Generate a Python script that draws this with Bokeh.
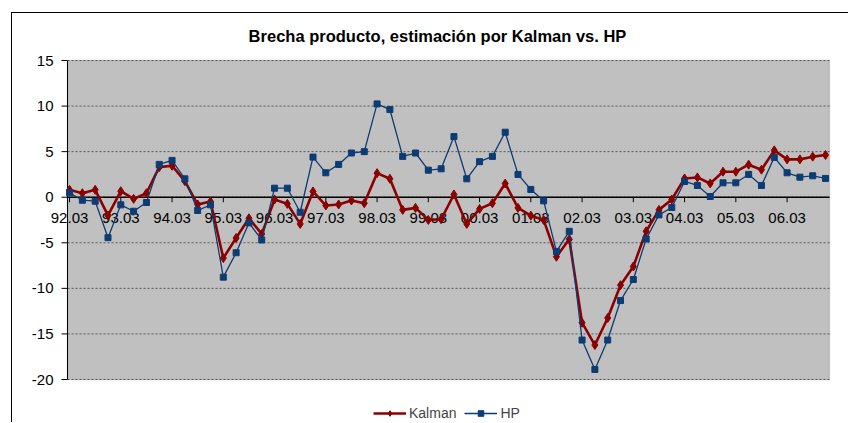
import math
from bokeh.plotting import figure
from bokeh.embed import file_html
from bokeh.resources import INLINE
from bokeh.models import Legend, LegendItem, BoxAnnotation, Label, Range1d
from bokeh.core.properties import value

quarters_idx = list(range(60))
tick_idx = [0, 4, 8, 12, 16, 20, 24, 28, 32, 36, 40, 44, 48, 52, 56]
tick_labels = ["92.03", "93.03", "94.03", "95.03", "96.03", "97.03", "98.03", "99.03",
               "00.03", "01.03", "02.03", "03.03", "04.03", "05.03", "06.03"]
y_ticks = [-20, -15, -10, -5, 0, 5, 10, 15]
y_tick_labels = ["-20", "-15", "-10", "-5", "0", "5", "10", "15"]

kalman = [0.81, 0.44, 0.81, -2.0, 0.66, -0.18, 0.44, 3.3, 3.45, 1.76, -0.8, -0.47,
          -6.68, -4.48, -2.31, -4.03, -0.25, -0.73, -2.93, 0.63, -0.91, -0.8, -0.36, -0.66,
          2.64, 2.02, -1.39, -1.17, -2.49, -2.42, 0.3, -2.93, -1.28, -0.66, 1.5, -1.17,
          -2.02, -2.49, -6.53, -4.62, -13.77, -16.22, -13.25, -9.65, -7.6, -3.74, -1.39, -0.25,
          2.06, 2.17, 1.51, 2.8, 2.8, 3.57, 3.02, 5.14, 4.15, 4.15, 4.45, 4.63]

hp = [0.48, -0.33, -0.44, -4.44, -0.84, -1.54, -0.58, 3.6, 4.04, 2.02, -1.46, -0.84,
      -8.77, -6.09, -2.82, -4.69, 0.99, 0.99, -1.65, 4.4, 2.68, 3.6, 4.85, 5.0,
      10.24, 9.62, 4.48, 4.85, 2.97, 3.12, 6.65, 2.02, 3.9, 4.48, 7.13, 2.5,
      0.85, -0.4, -5.95, -3.74, -15.67, -18.9, -15.67, -11.34, -9.03, -4.58, -1.94, -1.13,
      1.73, 1.29, 0.08, 1.58, 1.58, 2.5, 1.29, 4.37, 2.68, 2.2, 2.35, 2.06]

TITLE = "Brecha producto, estimación por Kalman vs. HP"
FONT = "Liberation Sans"
RED = "#8B0000"
BLUE = "#0D3B73"

# plot-area extent in category units, and the pixel layout of the chart
X0, X1 = -0.16, 59.31
AREA_W, AREA_H = 762, 319
LEFT_PAD, RIGHT_PAD, TOP_PAD, BOTTOM_PAD = 55, 20, 47, 44
sx = AREA_W / (X1 - X0)
sy = AREA_H / (y_ticks[-1] - y_ticks[0])

p = figure(width=LEFT_PAD + AREA_W + RIGHT_PAD, height=TOP_PAD + AREA_H + BOTTOM_PAD,
           output_backend="svg", toolbar_location=None,
           x_range=Range1d(X0 - LEFT_PAD / sx, X1 + RIGHT_PAD / sx),
           y_range=Range1d(y_ticks[0] - BOTTOM_PAD / sy, y_ticks[-1] + TOP_PAD / sy),
           min_border_left=0, min_border_right=0, min_border_top=0, min_border_bottom=0)
p.styles = {"border-top": "1px solid #000000", "border-left": "1px solid #000000",
            "margin-left": "11px", "margin-top": "12px"}
p.xaxis.visible = False
p.yaxis.visible = False
p.grid.visible = False
p.background_fill_color = "#FFFFFF"
p.border_fill_color = "#FFFFFF"
p.outline_line_color = None

# grey plot area
p.add_layout(BoxAnnotation(left=X0, right=X1, bottom=y_ticks[0], top=y_ticks[-1],
                           fill_color="#C0C0C0", fill_alpha=1, line_color="#808080",
                           line_width=1.5, level="image"))

# horizontal grid lines
n = len(y_ticks)
p.segment(x0=[X0] * n, x1=[X1] * n, y0=y_ticks, y1=y_ticks,
          line_color="#555555", line_width=1, line_dash="2 2")

# value axis
p.segment(x0=[X0], x1=[X0], y0=[y_ticks[0]], y1=[y_ticks[-1]], line_color="#000000",
          line_width=1)
p.ray(x=[X0] * n, y=y_ticks, length=6, length_units="screen", angle=math.pi,
      line_color="#000000", line_width=1)
p.text(x=[X0] * n, y=y_ticks, text=y_tick_labels, x_offset=-14, text_align="right",
       text_baseline="middle", text_font=value(FONT), text_font_size="15px",
       text_color="#000000")

# category axis crossing at zero
m = len(tick_idx)
p.segment(x0=[X0], x1=[X1], y0=[0], y1=[0], line_color="#000000", line_width=1.5)
p.ray(x=tick_idx, y=[0] * m, length=5, length_units="screen", angle=-math.pi / 2,
      line_color="#000000", line_width=1)
p.text(x=tick_idx, y=[0] * m, text=tick_labels, y_offset=21,
       text_align="center", text_baseline="middle", text_font=value(FONT),
       text_font_size="15px", text_color="#000000")

# title
p.add_layout(Label(x=(X0 + X1) / 2 - 11 / sx, y=y_ticks[-1] + 25 / sy, text=TITLE,
                   text_align="center", text_baseline="middle",
                   text_font=FONT, text_font_size="16.5px", text_font_style="bold",
                   text_color="#000000"))

l1 = p.line(quarters_idx, kalman, line_color=RED, line_width=2.6)
s1 = p.scatter(quarters_idx, kalman, marker="diamond", size=9, fill_color=RED, line_color=RED)
l2 = p.line(quarters_idx, hp, line_color=BLUE, line_width=1.3)
s2 = p.scatter(quarters_idx, hp, marker="square", size=6, fill_color=BLUE, line_color=BLUE)

legend = Legend(items=[LegendItem(label="Kalman", renderers=[l1, s1]),
                       LegendItem(label="HP", renderers=[l2, s2])],
                orientation="horizontal", location=(LEFT_PAD + 306, 2),
                background_fill_alpha=0, border_line_color=None,
                label_text_font=FONT, label_text_font_size="14px",
                glyph_width=33, glyph_height=14, label_height=14,
                label_standoff=3, spacing=8, padding=1, margin=0)
p.add_layout(legend, "center")

open("out.html", "w").write(file_html(p, INLINE))
